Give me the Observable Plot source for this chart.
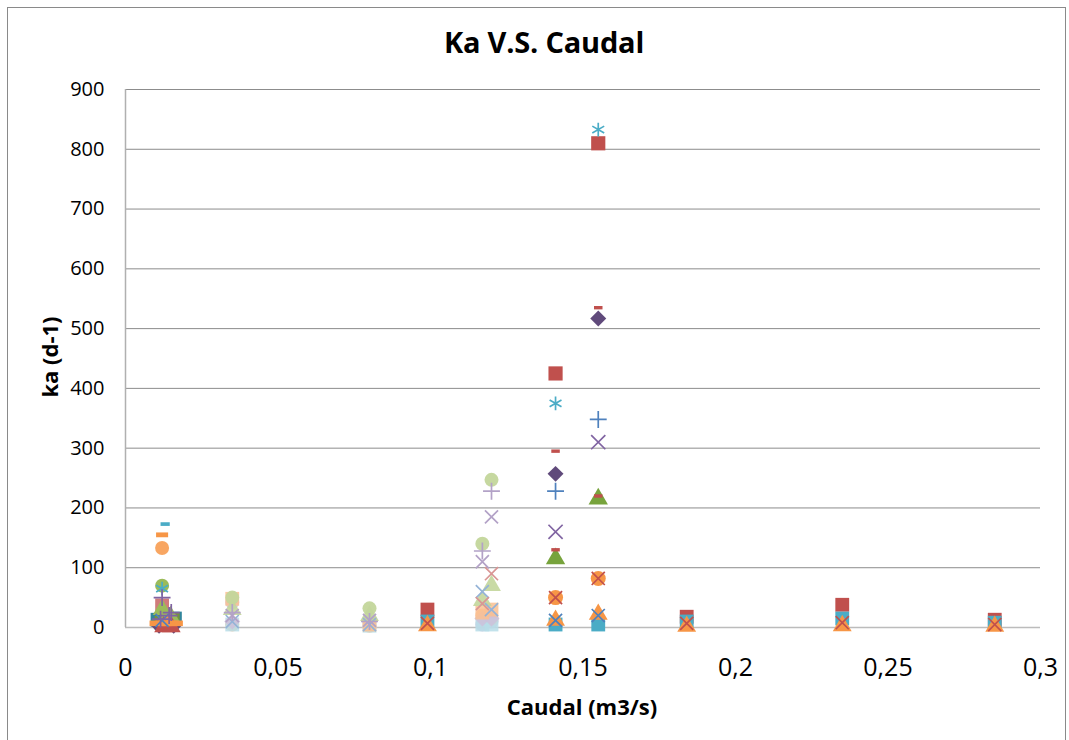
<!DOCTYPE html>
<html><head><meta charset="utf-8">
<script src="https://cdn.jsdelivr.net/npm/d3@7"></script>
<script src="https://cdn.jsdelivr.net/npm/@observablehq/plot@0.6"></script>
<style>
body{margin:0;background:#fff;font-family:"Open Sans",sans-serif;}
#wrap{position:relative;width:1069px;height:740px;overflow:hidden;}
#frame{position:absolute;left:7px;top:7px;width:1059px;height:740px;border:1px solid #8a8a8a;box-sizing:border-box;}
#chart{position:absolute;left:0;top:0;}
</style></head>
<body><div id="wrap"><div id="frame"></div><div id="chart"></div></div>
<script>
// Station flows (m3/s)
const qHigh = [0.141, 0.155];
const qRight = [0.099, 0.184, 0.235, 0.285];
const qMid = [0.035, 0.08, 0.117, 0.12];
// ka values (d-1) at qHigh
const kaDiamondPurple = [257, 517];
const kaSquareRed = [425, 810];
const kaTriangleGreen = [115, 215];
const kaTimesPurple = [160, 310];
const kaAsteriskAqua = [375, 833];
const kaCircleOrange = [50, 82];
const kaPlusBlue = [228, 348];
const kaDashRedA = [130, 220];
const kaDashRedB = [295, 535];
const kaTimesRed = [50, 82];
const kaTimesBlue = [12, 20];
const kaTriangleOrange = [12, 22];
const kaSquareAqua = [5, 5];
// ka at qRight
const kaRightSquareRed = [30, 18, 38, 13];
const kaRightSquareAqua = [10, 10, 15, 8];
const kaRightTimesRed = [7, 7, 8, 5];
const kaRightTriangleOrange = [3, 2, 3, 2];
// ka at qMid (light series)
const kaLightCircleGreen = [50, 32, 140, 247];
const kaLightPlusPurple = [25, 10, 128, 228];
const kaLightTimesPurple = [20, 12, 110, 185];
const kaLightTimesRed = [null, null, 40, 90];
const kaLightTriangleGreen = [30, 20, 45, 70];
const kaLightTimesBlue = [10, 5, 60, 30];
const kaLightSquareOrange = [48, 5, 25, 30];
const kaLightDiamondPurple = [10, 10, 15, 15];
const kaLightSquareAqua = [5, 3, 5, 5];
const kaLightCircleOrange = [5, 3, 20, 15];
const kaLightCirclePurple = [42, 10, 5, 10];
// low-flow cluster: [caudal, ka]
const lowDashAqua = [[0.013, 173]];
const lowDashOrange = [[0.012, 155]];
const lowBandOrange = [[0.0105, 7], [0.0125, 7], [0.0145, 7], [0.0162, 7]];
const lowCircleOrange = [[0.012, 133]];
const lowCircleGreen = [[0.012, 70]];
const lowAsteriskAqua = [[0.012, 65]];
const lowPlusPurple = [[0.012, 50], [0.015, 25], [0.0143, 20], [0.0115, 14]];
const lowSquareRed = [[0.012, 37], [0.0135, 12]];
const lowTriangleGreen = [[0.012, 30], [0.0148, 18], [0.0132, 14]];
const lowSquareTeal = [[0.0105, 13], [0.0125, 14], [0.0162, 15], [0.0148, 10]];
const lowDiamondPurple = [[0.011, 3], [0.0158, 3]];
const lowTriangleOrange = [[0.0135, 4]];
const lowSquareOlive = [[0.0155, 14], [0.0118, 8]];
const lowTimesBlue = [[0.012, 12]];
const lowTriangleRed = [[0.0125, 1], [0.015, 1]];

const yTicks = [0, 100, 200, 300, 400, 500, 600, 700, 800, 900];
const xTicks = [0, 0.05, 0.1, 0.15, 0.2, 0.25, 0.3];

const dash = {draw(ctx, size){const w = Math.sqrt(size)*0.8, h = w*0.4; ctx.moveTo(-w/2,-h/2); ctx.lineTo(w/2,-h/2); ctx.lineTo(w/2,h/2); ctx.lineTo(-w/2,h/2); ctx.closePath();}};
const band = {draw(ctx, size){const w = Math.sqrt(size)*1.0, h = w*0.35; ctx.moveTo(-w/2,-h/2); ctx.lineTo(w/2,-h/2); ctx.lineTo(w/2,h/2); ctx.lineTo(-w/2,h/2); ctx.closePath();}};
const rhombus = {draw(ctx, size){const s = Math.sqrt(size)*0.6; ctx.moveTo(0,-s); ctx.lineTo(s,0); ctx.lineTo(0,s); ctx.lineTo(-s,0); ctx.closePath();}};

const zip = (q, ka) => q.map((x, i) => ({x, y: ka[i]})).filter(d => d.y != null);
const pairs = p => p.map(([x, y]) => ({x, y}));

// series: data, symbol, color, filled?, r, opacity
const series = [
  [zip(qMid, kaLightCirclePurple), "circle", "#CCC1DA", true, 7, 0.85],
  [zip(qMid, kaLightCircleOrange), "circle", "#FAC090", true, 7, 0.85],
  [zip(qMid, kaLightSquareAqua), "square", "#B7DDE8", true, 7.8, 0.85],
  [zip(qMid, kaLightDiamondPurple), rhombus, "#CCC1DA", true, 7.5, 0.85],
  [zip(qMid, kaLightSquareOrange), "square", "#FAC090", true, 7.8, 0.85],
  [zip(qMid, kaLightTriangleGreen), "triangle", "#C3D69B", true, 7, 0.9],
  [zip(qMid, kaLightTimesBlue), "times", "#95B3D7", false, 6, 1],
  [zip(qMid, kaLightTimesRed), "times", "#D99694", false, 6, 1],
  [zip(qMid, kaLightTimesPurple), "times", "#B3A2C7", false, 6, 1],
  [zip(qMid, kaLightCircleGreen), "circle", "#C3D69B", true, 7, 0.95],
  [zip(qMid, kaLightPlusPurple), "plus", "#B3A2C7", false, 5.5, 1],

  [pairs(lowSquareRed), "square", "#C0504D", true, 7.8, 0.75],
  [pairs(lowSquareTeal), "square", "#31859C", true, 7.8, 1],
  [pairs(lowSquareOlive), "square", "#77933C", true, 7.8, 1],
  [pairs(lowDiamondPurple), rhombus, "#604A7B", true, 7.5, 1],
  [pairs(lowTriangleGreen), "triangle", "#9BBB59", true, 7, 1],
  [pairs(lowTriangleOrange), "triangle", "#F79646", true, 7, 1],
  [pairs(lowTriangleRed), "triangle", "#C0504D", true, 7, 1],
  [pairs(lowBandOrange), band, "#F79646", true, 9, 1],
  [pairs(lowTimesBlue), "times", "#4F81BD", false, 6, 1],
  [pairs(lowCircleOrange), "circle", "#F79646", true, 7, 0.85],
  [pairs(lowCircleGreen), "circle", "#9BBB59", true, 7, 1],
  [pairs(lowAsteriskAqua), "asterisk", "#4BACC6", false, 6.5, 1],
  [pairs(lowPlusPurple), "plus", "#8064A2", false, 5.5, 1],
  [pairs(lowDashOrange), dash, "#F79646", true, 8.5, 1],
  [pairs(lowDashAqua), dash, "#4BACC6", true, 6.5, 1],

  [zip(qRight, kaRightSquareRed), "square", "#C0504D", true, 7.8, 1],
  [zip(qRight, kaRightSquareAqua), "square", "#4BACC6", true, 7.8, 1],
  [zip(qRight, kaRightTriangleOrange), "triangle", "#F79646", true, 7, 1],
  [zip(qRight, kaRightTimesRed), "times", "#C0504D", false, 6, 1],

  [zip(qHigh, kaSquareAqua), "square", "#4BACC6", true, 7.8, 1],
  [zip(qHigh, kaTriangleOrange), "triangle", "#F79646", true, 7, 1],
  [zip(qHigh, kaTimesBlue), "times", "#4F81BD", false, 6, 1],
  [zip(qHigh, kaCircleOrange), "circle", "#F79646", true, 7.5, 1],
  [zip(qHigh, kaTimesRed), "times", "#C0504D", false, 6, 1],
  [zip(qHigh, kaTriangleGreen), "triangle", "#77A33C", true, 7.2, 1],
  [zip(qHigh, kaDashRedA), dash, "#C0504D", true, 6, 1],
  [zip(qHigh, kaDashRedB), dash, "#C0504D", true, 6, 1],
  [zip(qHigh, kaTimesPurple), "times", "#8064A2", false, 6.5, 1],
  [zip(qHigh, kaPlusBlue), "plus", "#4F81BD", false, 5.5, 1],
  [zip(qHigh, kaDiamondPurple), rhombus, "#604A7B", true, 7.5, 1],
  [zip(qHigh, kaSquareRed), "square", "#C0504D", true, 8, 1],
  [zip(qHigh, kaAsteriskAqua), "asterisk", "#4BACC6", false, 6.5, 1]
];

const dotMarks = series.map(([data, symbol, color, filled, r, op]) =>
  Plot.dot(data, filled
    ? {x: "x", y: "y", symbol: () => symbol, r, fill: color, fillOpacity: op, stroke: "none"}
    : {x: "x", y: "y", symbol: () => symbol, r, stroke: color, strokeWidth: 1.7, strokeOpacity: op, fill: "none"}));

const fmt = v => v === 0 ? "0" : String(+v.toFixed(2)).replace(".", ",");

const plot = Plot.plot({
  width: 1069, height: 740,
  marginLeft: 125, marginRight: 29, marginTop: 89, marginBottom: 113,
  style: {fontFamily: "'Open Sans', sans-serif", background: "transparent", color: "#000"},
  x: {domain: [0, 0.3], label: null, axis: null},
  y: {domain: [0, 900], label: null, axis: null},
  symbol: {type: "identity"},
  marks: [
    Plot.ruleY(yTicks.filter(d => d > 0), {stroke: "#8c8c8c", strokeWidth: 1}),
    Plot.ruleY([0], {stroke: "#bcbcbc", strokeWidth: 1.5}),
    Plot.ruleX([0], {stroke: "#b0b0b0", strokeWidth: 1.5}),
    Plot.axisY(yTicks, {tickSize: 0, tickPadding: 21, fontSize: 20, ariaLabel: "yticks"}),
    Plot.axisX(xTicks, {tickSize: 0, tickPadding: 31, fontSize: 25, tickFormat: fmt, ariaLabel: "xticks"}),
    ...dotMarks
  ]
});
document.getElementById("chart").appendChild(plot);

const svg = d3.select(plot);
svg.selectAll('g[aria-label="yticks"]').attr("font-size", 20).style("font-size", "20px");
svg.selectAll('g[aria-label="xticks"]').attr("font-size", 25).style("font-size", "25px");
svg.append("text").attr("x", 544).attr("y", 53).attr("text-anchor", "middle")
  .attr("font-weight", "bold").style("font-size", "29px").attr("letter-spacing", -0.2).text("Ka V.S. Caudal");
svg.append("text").attr("x", 582).attr("y", 715).attr("text-anchor", "middle")
  .attr("font-weight", "bold").style("font-size", "22px").text("Caudal (m3/s)");
svg.append("text").attr("transform", "translate(58,357) rotate(-90)").attr("text-anchor", "middle")
  .attr("font-weight", "bold").style("font-size", "22px").text("ka (d-1)");
</script></body></html>
